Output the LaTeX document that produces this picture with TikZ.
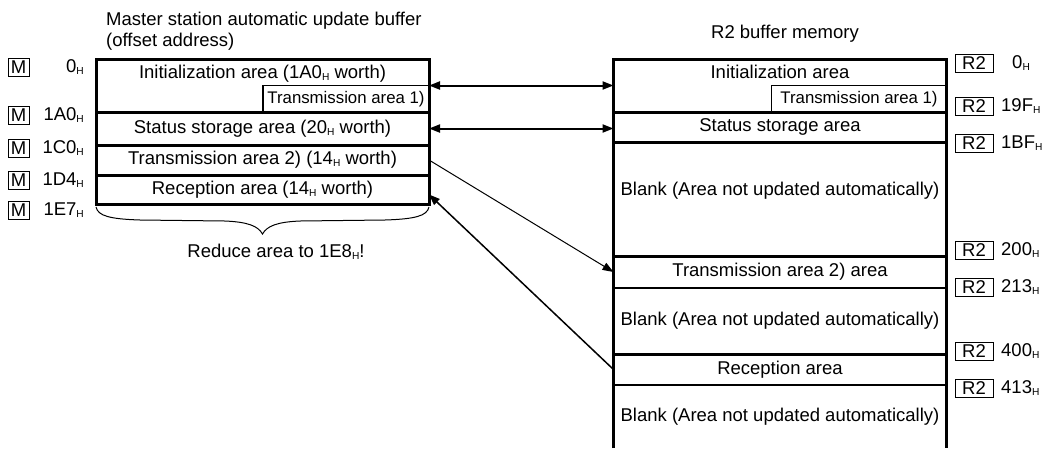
\documentclass[tikz,border=0pt]{standalone}
\usepackage{fontspec}
\setmainfont{Liberation Sans}
\usetikzlibrary{arrows.meta,positioning}

\newcommand{\hexH}{\raisebox{-0.1em}{\scalebox{0.55}{H}}}

\begin{document}
\begin{tikzpicture}[
  x=1pt, y=-1pt,
  font=\fontsize{18.5}{20.5}\selectfont,
  area/.style={draw, line width=2pt, minimum width=333pt, inner sep=0pt,
               outer sep=0pt, anchor=north},
  thk/.style={line width=3pt},
  sub/.style={draw, line width=1.5pt, inner sep=0pt, outer sep=0pt,
              anchor=north east, font=\fontsize{16.8}{18}\selectfont},
  tag/.style={draw, line width=1pt, minimum height=18pt, inner sep=0pt},
  txt/.style={inner sep=0pt},
  arr/.style={-{Triangle[length=11pt,width=8pt]}, line width=1pt},
  darr/.style={{Triangle[length=11pt,width=8pt]}-{Triangle[length=11pt,width=8pt]},
               line width=2pt}
]
  \useasboundingbox (0,0) rectangle (1044,448);

  % titles
  \node[txt, anchor=west, align=left] (mtitle) at (106,31)
    {Master station automatic update buffer\\(offset address)};
  \node[txt] (rtitle) at (785,34) {R2 buffer memory};

  % master station buffer
  \node[area, thk, minimum height=53pt] (linit) at (262.5,59) {};
  \node[area, thk, minimum height=33pt, below=0pt of linit] (lstat)
    {Status storage area (20\hexH{} worth)};
  \node[area, thk, minimum height=30pt, below=0pt of lstat] (ltx2)
    {Transmission area 2) (14\hexH{} worth)};
  \node[area, thk, minimum height=29pt, below=0pt of ltx2] (lrec)
    {Reception area (14\hexH{} worth)};
  \node[sub, minimum width=166pt, minimum height=26.5pt] (ltx1) at (linit.east)
    {Transmission area 1)};
  \node[txt, below=6pt of linit.north] (linitlbl)
    {Initialization area (1A0\hexH{} worth)};
  \draw[thk] (linit.north west) rectangle (lrec.south east);

  % R2 buffer memory
  \node[area, thk, minimum height=53pt] (rinit) at (780,59) {};
  \node[area, thk, minimum height=30pt, below=0pt of rinit] (rstat)
    {Status storage area};
  \node[area, thk, minimum height=114pt, below=0pt of rstat] (rb1) {};
  \node[area, minimum height=32pt, below=0pt of rb1] (rtx2)
    {Transmission area 2) area};
  \node[area, minimum height=66pt, below=0pt of rtx2] (rb2)
    {Blank (Area not updated automatically)};
  \node[area, minimum height=31pt, below=0pt of rb2] (rrec) {Reception area};
  \node[area, draw=none, minimum height=63pt, below=0pt of rrec] (rb3)
    {Blank (Area not updated automatically)};
  \node[sub, minimum width=175pt, minimum height=27.5pt] (rtx1) at (rinit.east)
    {Transmission area 1)};
  \node[txt, below=6pt of rinit.north] (rinitlbl) {Initialization area};
  \node[txt] (rb1lbl) at ([yshift=8pt]rb1.center)
    {Blank (Area not updated automatically)};
  \draw[thk] (rb2.south west) -- (rb2.south east);
  \draw[thk] (rb3.south west) -- (rinit.north west) -- (rinit.north east)
    -- (rb3.south east);

  % master station addresses
  \node[tag, minimum width=21pt] (m0) at (18.5,67) {M};
  \node[txt, anchor=east] (m0adr) at (84,67) {0\hexH};
  \node[tag, minimum width=21pt] (m1a0) at (18.5,115) {M};
  \node[txt, anchor=east] (m1a0adr) at (84,115) {1A0\hexH};
  \node[tag, minimum width=21pt] (m1c0) at (18.5,148) {M};
  \node[txt, anchor=east] (m1c0adr) at (84,148) {1C0\hexH};
  \node[tag, minimum width=21pt] (m1d4) at (18.5,180) {M};
  \node[txt, anchor=east] (m1d4adr) at (84,180) {1D4\hexH};
  \node[tag, minimum width=21pt] (m1e7) at (18.5,210) {M};
  \node[txt, anchor=east] (m1e7adr) at (84,210) {1E7\hexH};

  % R2 addresses
  \node[tag, minimum width=38pt] (r0) at (974,63) {R2};
  \node[txt, anchor=west] (r0adr) at (1012,63) {0\hexH};
  \node[tag, minimum width=38pt] (r19f) at (974,106) {R2};
  \node[txt, anchor=west] (r19fadr) at (1001,106) {19F\hexH};
  \node[tag, minimum width=38pt] (r1bf) at (974,143) {R2};
  \node[txt, anchor=west] (r1bfadr) at (1001,143) {1BF\hexH};
  \node[tag, minimum width=38pt] (r200) at (974,250) {R2};
  \node[txt, anchor=west] (r200adr) at (1001,250) {200\hexH};
  \node[tag, minimum width=38pt] (r213) at (974,287) {R2};
  \node[txt, anchor=west] (r213adr) at (1001,287) {213\hexH};
  \node[tag, minimum width=38pt] (r400) at (974,351) {R2};
  \node[txt, anchor=west] (r400adr) at (1001,351) {400\hexH};
  \node[tag, minimum width=38pt] (r413) at (974,388) {R2};
  \node[txt, anchor=west] (r413adr) at (1001,388) {413\hexH};

  % transfers between the two buffers
  \draw[darr] (linit.east) -- (rinit.west);
  \draw[darr] (lstat.east) -- (lstat.east -| rstat.west);
  \draw[arr] (ltx2.east) -- (rtx2.west);
  \draw[arr, line width=1.5pt] (rrec.west) -- ([yshift=-5pt]lrec.east);

  % brace under the master station buffer
  \draw[line width=1pt] (96,207) .. controls (98,216) and (110,219) .. (140,220)
    -- (225,221) .. controls (248,222) and (258,226) .. (262.5,234)
    .. controls (267,226) and (277,222) .. (300,221)
    -- (385,220) .. controls (415,219) and (427,216) .. (429,207);
  \node[txt] (reduce) at (276,252) {Reduce area to 1E8\hexH!};
\end{tikzpicture}
\end{document}
